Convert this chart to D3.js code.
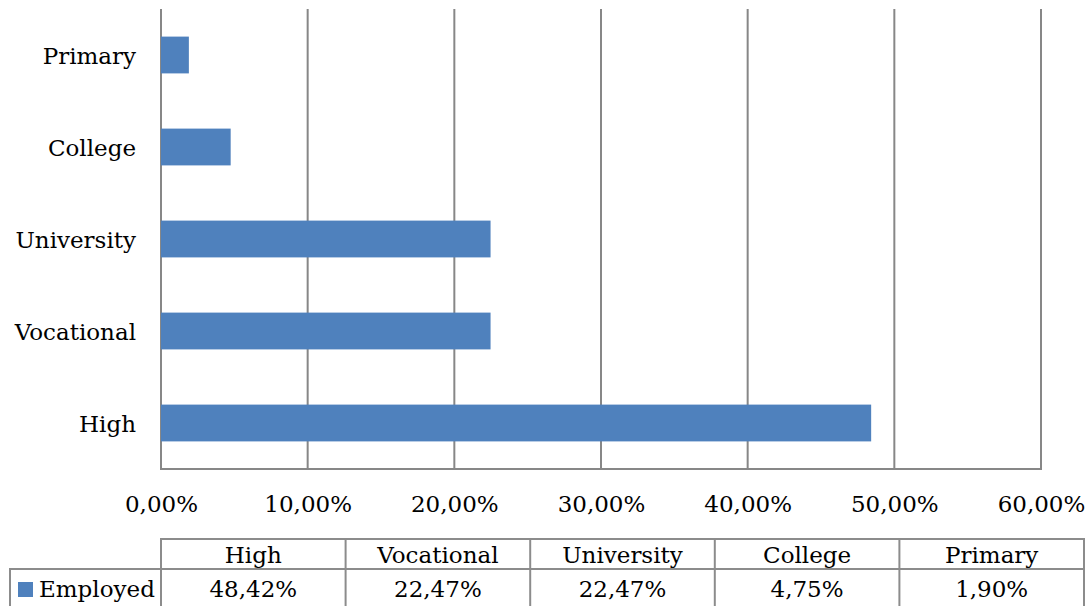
<!DOCTYPE html>
<html>
<head>
<meta charset="utf-8">
<script src="https://cdn.jsdelivr.net/npm/d3@7"></script>
<style>
  body { margin: 0; background: #fff; }
  svg { display: block; font-family: 'DejaVu Serif', serif; }
</style>
</head>
<body>
<svg width="1088" height="606"></svg>
<script>
const CATEGORIES = ['High', 'Vocational', 'University', 'College', 'Primary']
const EMPLOYED = [48.42, 22.47, 22.47, 4.75, 1.90]
const X_TICKS = [0, 10, 20, 30, 40, 50, 60]
const SERIES_NAME = 'Employed'

const GRID = '#878787'
const BLUE = '#4f81bd'
const fmt = v => v.toFixed(2).replace('.', ',') + '%'

const svg = d3.select('svg')
const plot = { left: 161, right: 1041, top: 9, bottom: 469 }

const x = d3.scaleLinear().domain([0, 60]).range([plot.left, plot.right])
const y = d3.scaleBand()
  .domain(CATEGORIES.slice().reverse())
  .range([plot.top, plot.bottom])
  .paddingInner(0.6)
  .paddingOuter(0.3)

// vertical gridlines
svg.append('g')
  .selectAll('line')
  .data(X_TICKS)
  .enter().append('line')
  .attr('x1', d => x(d))
  .attr('x2', d => x(d))
  .attr('y1', plot.top)
  .attr('y2', plot.bottom)
  .attr('stroke', GRID)
  .attr('stroke-width', 2)

// bars
svg.append('g')
  .selectAll('rect')
  .data(CATEGORIES)
  .enter().append('rect')
  .attr('x', x(0))
  .attr('y', d => y(d))
  .attr('width', (d, i) => x(EMPLOYED[i]) - x(0))
  .attr('height', y.bandwidth())
  .attr('fill', BLUE)

// bottom axis line
svg.append('line')
  .attr('x1', plot.left - 1).attr('x2', plot.right + 1)
  .attr('y1', plot.bottom).attr('y2', plot.bottom)
  .attr('stroke', GRID).attr('stroke-width', 2)

// x tick labels
const xAxis = d3.axisBottom(x).tickValues(X_TICKS).tickFormat(fmt).tickSize(0).tickPadding(0)
svg.append('g')
  .attr('transform', `translate(0,${plot.bottom + 27})`)
  .call(xAxis)
  .call(g => g.select('.domain').remove())
  .selectAll('text')
  .attr('font-family', 'DejaVu Serif')
  .attr('font-size', 23)
  .attr('fill', '#000')

// y category labels
const yAxis = d3.axisLeft(y).tickSize(0).tickPadding(25)
svg.append('g')
  .attr('transform', `translate(${plot.left},2)`)
  .call(yAxis)
  .call(g => g.select('.domain').remove())
  .selectAll('text')
  .attr('font-family', 'DejaVu Serif')
  .attr('font-size', 23)
  .attr('fill', '#000')

// data table
const table = svg.append('g')
const colX = d3.scaleBand().domain(CATEGORIES).range([plot.left, 1084])
const rowTop = 539, rowMid = 569, rowBot = 620

table.append('path')
  .attr('d', `M${plot.left},${rowBot} V${rowTop} H1084 V${rowBot} M10,${rowBot} V${rowMid} H1084`)
  .attr('fill', 'none')
  .attr('stroke', '#8c8c8c')
  .attr('stroke-width', 2)

table.selectAll('line.col')
  .data(CATEGORIES.slice(1))
  .enter().append('line')
  .attr('class', 'col')
  .attr('x1', d => colX(d)).attr('x2', d => colX(d))
  .attr('y1', rowTop).attr('y2', rowBot)
  .attr('stroke', '#8c8c8c')
  .attr('stroke-width', 2)

table.selectAll('text.head')
  .data(CATEGORIES)
  .enter().append('text')
  .attr('class', 'head')
  .attr('x', d => colX(d) + colX.bandwidth() / 2)
  .attr('y', 563)
  .attr('text-anchor', 'middle')
  .attr('font-size', 23)
  .attr('fill', '#000')
  .text(d => d)

table.selectAll('text.val')
  .data(EMPLOYED)
  .enter().append('text')
  .attr('class', 'val')
  .attr('x', (d, i) => colX(CATEGORIES[i]) + colX.bandwidth() / 2)
  .attr('y', 597)
  .attr('text-anchor', 'middle')
  .attr('font-size', 23)
  .attr('fill', '#000')
  .text(fmt)

table.append('rect')
  .attr('x', 18).attr('y', 582).attr('width', 15).attr('height', 15)
  .attr('fill', BLUE)
table.append('text')
  .attr('x', 39).attr('y', 597)
  .attr('font-size', 23)
  .attr('fill', '#000')
  .text(SERIES_NAME)
</script>
</body>
</html>
